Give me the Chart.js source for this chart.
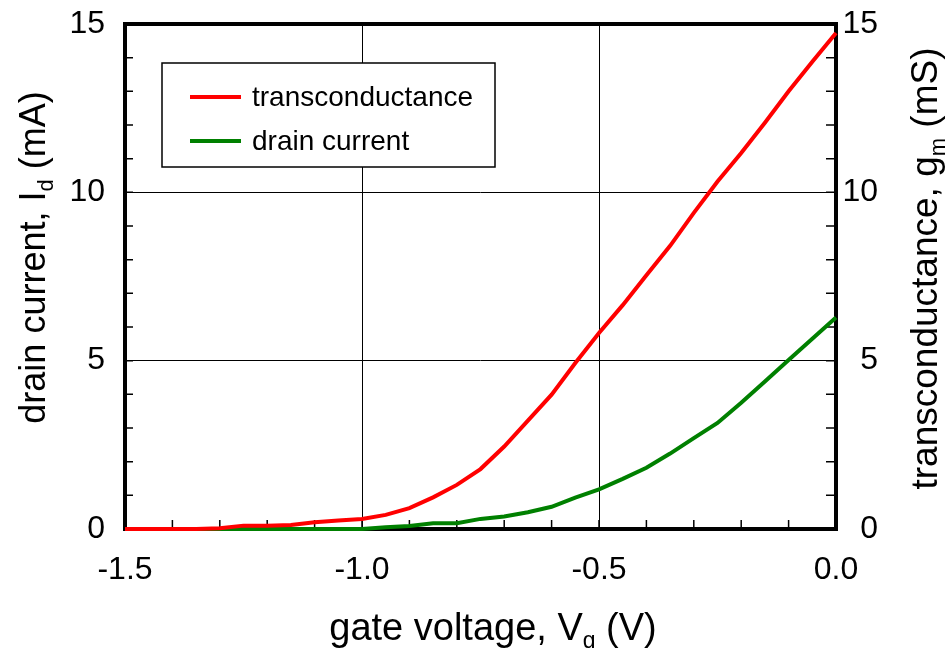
<!DOCTYPE html>
<html>
<head>
<meta charset="utf-8">
<script src="https://cdn.jsdelivr.net/npm/chart.js@4.4.1/dist/chart.umd.min.js"></script>
<style>
    body { margin: 0; background: #fff; }
    #fet { display: block; }
</style>
</head>
<body>
<canvas id="fet" width="947" height="648"></canvas>
<script>
// gate voltage (V)
const gate_voltage = [-1.5, -1.45, -1.4, -1.35, -1.3, -1.25, -1.2, -1.15, -1.1, -1.05,
    -1.0, -0.95, -0.9, -0.85, -0.8, -0.75, -0.7, -0.65, -0.6, -0.55,
    -0.5, -0.45, -0.4, -0.35, -0.3, -0.25, -0.2, -0.15, -0.1, -0.05, 0.0];
// transconductance gm (mS)
const transconductance = [0, 0, 0, 0, 0.02, 0.1, 0.1, 0.12, 0.2, 0.25,
    0.3, 0.42, 0.62, 0.94, 1.31, 1.78, 2.45, 3.22, 3.99, 4.93,
    5.82, 6.65, 7.54, 8.41, 9.39, 10.32, 11.17, 12.07, 13.0, 13.88, 14.73];
// drain current Id (mA)
const drain_current = [0, 0, 0, 0, 0, 0, 0, 0, 0, 0,
    0, 0.05, 0.09, 0.17, 0.17, 0.3, 0.37, 0.5, 0.66, 0.93,
    1.18, 1.49, 1.82, 2.24, 2.7, 3.15, 3.75, 4.38, 5.02, 5.65, 6.28];

const x_ticks = [-1.5, -1.0, -0.5, 0.0];
const y_ticks = [0, 5, 10, 15];

const FONT = '"Liberation Sans", Arial, sans-serif';

function points(xs, ys) {
    return xs.map((x, i) => ({ x: x, y: ys[i] }));
}

// text with one subscript part, centred on 0
function draw_sub_text(ctx, parts) {
    let total = 0;
    parts.forEach(p => {
        ctx.font = p.size + 'px ' + FONT;
        p.w = ctx.measureText(p.text).width;
        total += p.w;
    });
    let x = -total / 2;
    ctx.textAlign = 'left';
    ctx.textBaseline = 'alphabetic';
    parts.forEach(p => {
        ctx.font = p.size + 'px ' + FONT;
        ctx.fillText(p.text, x, p.dy || 0);
        x += p.w;
    });
}

// no extra room for half tick labels, the frame sits where it should
function no_label_padding(s) {
    s.paddingTop = 0;
    s.paddingBottom = 0;
    s.paddingLeft = 0;
    s.paddingRight = 0;
}

const framePlugin = {
    id: 'frame',
    beforeDatasetsDraw(chart) {
        const ctx = chart.ctx;
        const a = chart.chartArea;
        const sx = chart.scales.x, sy = chart.scales.y, sy2 = chart.scales.y2;
        ctx.save();
        ctx.strokeStyle = '#000';
        // minor ticks, inward
        ctx.lineWidth = 1.5;
        ctx.beginPath();
        for (let v = 1; v < 15; v++) {
            const py = sy.getPixelForValue(v);
            ctx.moveTo(a.left, py); ctx.lineTo(a.left + 8, py);
            const py2 = sy2.getPixelForValue(v);
            ctx.moveTo(a.right, py2); ctx.lineTo(a.right - 10, py2);
        }
        for (let k = 1; k < 15; k++) {
            const px = sx.getPixelForValue(-1.5 + k / 10);
            ctx.moveTo(px, a.bottom); ctx.lineTo(px, a.bottom - 9);
        }
        ctx.stroke();
        ctx.lineWidth = 4;
        ctx.strokeRect(a.left, a.top, a.right - a.left, a.bottom - a.top);
        ctx.restore();
    },
    afterDatasetsDraw(chart) {
        // legend box inside the plot
        const ctx = chart.ctx;
        const a = chart.chartArea;
        const bx = a.left + 37, by = a.top + 39, bw = 333, bh = 104;
        ctx.save();
        ctx.fillStyle = '#fff';
        ctx.fillRect(bx, by, bw, bh);
        ctx.strokeStyle = '#000';
        ctx.lineWidth = 1.5;
        ctx.strokeRect(bx, by, bw, bh);
        ctx.font = '28px ' + FONT;
        ctx.textAlign = 'left';
        ctx.textBaseline = 'middle';
        chart.data.datasets.forEach((ds, i) => {
            const ly = by + 34 + i * 44;
            ctx.strokeStyle = ds.borderColor;
            ctx.lineWidth = 4;
            ctx.beginPath();
            ctx.moveTo(bx + 28, ly);
            ctx.lineTo(bx + 79, ly);
            ctx.stroke();
            ctx.fillStyle = '#000';
            ctx.fillText(ds.label, bx + 90, ly + 1);
        });
        ctx.restore();
    },
    afterDraw(chart) {
        const ctx = chart.ctx;
        const a = chart.chartArea;
        const mid_y = (a.top + a.bottom) / 2;
        ctx.save();
        ctx.fillStyle = '#000';

        ctx.save();
        ctx.translate(493, 640);
        draw_sub_text(ctx, [
            { text: 'gate voltage, V', size: 38 },
            { text: 'g', size: 23, dy: 8 },
            { text: ' (V)', size: 38 }
        ]);
        ctx.restore();

        ctx.save();
        ctx.translate(45, mid_y - 19);
        ctx.rotate(-Math.PI / 2);
        draw_sub_text(ctx, [
            { text: 'drain current, I', size: 36 },
            { text: 'd', size: 22, dy: 8 },
            { text: ' (mA)', size: 36 }
        ]);
        ctx.restore();

        ctx.save();
        ctx.translate(937, mid_y - 8);
        ctx.rotate(-Math.PI / 2);
        draw_sub_text(ctx, [
            { text: 'transconductance, g', size: 37 },
            { text: 'm', size: 22, dy: 8 },
            { text: ' (mS)', size: 37 }
        ]);
        ctx.restore();

        ctx.restore();
    }
};

function draw_chart() {
    Chart.defaults.font.family = FONT;
    Chart.defaults.color = '#000';

    const ctx = document.getElementById('fet');
    const fetChart = new Chart(ctx, {
        type: 'line',
        data: {
            datasets: [{
                label: 'transconductance',
                data: points(gate_voltage, transconductance),
                borderColor: 'rgb(255, 0, 0)',
                borderWidth: 4,
                pointRadius: 0,
                tension: 0,
                fill: false,
                clip: false,
                yAxisID: 'y2'
            },
            {
                label: 'drain current',
                data: points(gate_voltage, drain_current),
                borderColor: 'rgb(0, 128, 0)',
                borderWidth: 4,
                pointRadius: 0,
                tension: 0,
                fill: false,
                clip: false,
                yAxisID: 'y'
            }]
        },
        options: {
            responsive: false,
            animation: false,
            layout: { padding: { top: 24, left: 0, right: 69, bottom: 0 } },
            plugins: {
                legend: { display: false },
                tooltip: { enabled: false }
            },
            scales: {
                x: {
                    type: 'linear',
                    min: x_ticks[0],
                    max: x_ticks[x_ticks.length - 1],
                    afterBuildTicks: s => { s.ticks = x_ticks.map(v => ({ value: v })); },
                    afterFit: s => { s.height = 119; no_label_padding(s); },
                    grid: { color: '#000', lineWidth: 1, drawTicks: false },
                    border: { display: false },
                    ticks: {
                        font: { size: 32 },
                        padding: 22,
                        maxRotation: 0,
                        callback: v => v.toFixed(1)
                    }
                },
                y: {
                    position: 'left',
                    min: 0,
                    max: 15,
                    afterBuildTicks: s => { s.ticks = y_ticks.map(v => ({ value: v })); },
                    afterFit: s => { s.width = 125; no_label_padding(s); },
                    grid: { color: '#000', lineWidth: 1, drawTicks: false },
                    border: { display: false },
                    ticks: { font: { size: 32 }, padding: 20 }
                },
                y2: {
                    position: 'right',
                    min: 0,
                    max: 15,
                    afterBuildTicks: s => { s.ticks = y_ticks.map(v => ({ value: v })); },
                    afterFit: s => { s.width = 42; no_label_padding(s); },
                    grid: { display: false, drawTicks: false },
                    border: { display: false },
                    ticks: { font: { size: 32 }, padding: 6, crossAlign: 'far' }
                }
            }
        },
        plugins: [framePlugin]
    });
}

draw_chart();
</script>
</body>
</html>
